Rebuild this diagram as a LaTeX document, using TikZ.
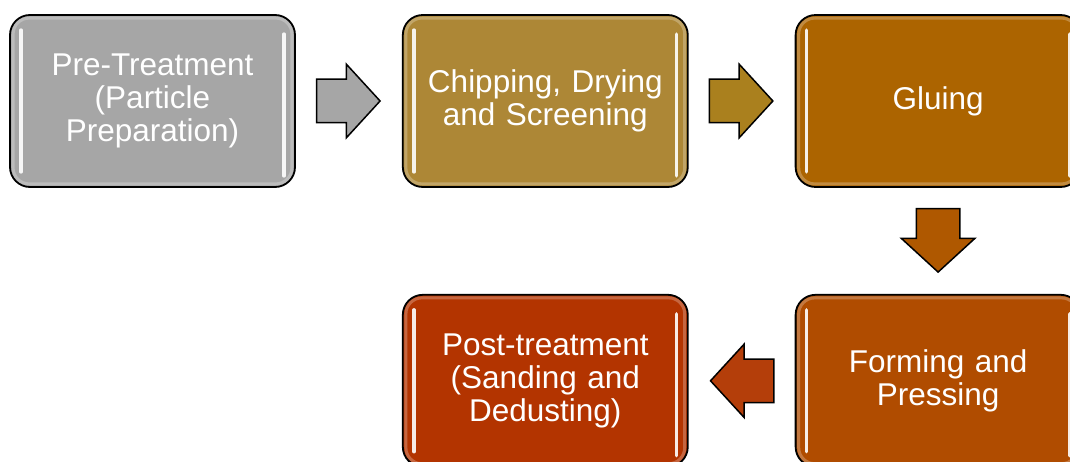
\documentclass[tikz,border=0pt]{standalone}
\usepackage{fontspec}
\setmainfont{Liberation Sans}
\usetikzlibrary{calc,positioning,shapes.arrows}

\definecolor{cpre}{RGB}{166,166,166}
\definecolor{cchip}{RGB}{173,135,54}
\definecolor{cglue}{RGB}{172,100,0}
\definecolor{cform}{RGB}{176,76,0}
\definecolor{cpost}{RGB}{179,52,0}
\definecolor{cflowa}{RGB}{166,166,166}
\definecolor{cflowb}{RGB}{170,128,30}
\definecolor{cflowc}{RGB}{175,88,0}
\definecolor{cflowd}{RGB}{180,62,10}

\tikzset{
  stage/.style={draw=black, line width=1.8pt, rounded corners=20pt,
    minimum width=285pt, minimum height=172pt, text width=270pt,
    align=center, text=white, font=\fontsize{31.5}{33}\selectfont},
  flow/.style={single arrow, draw=black, line width=1.5pt, inner sep=21pt,
    single arrow head extend=15pt, single arrow tip angle=95,
    minimum height=62pt, anchor=tail},
  glint/.style={white, line width=3.5pt, line cap=round, opacity=.9},
  glow/.style={white, line width=3pt, rounded corners=16pt, opacity=.25}
}

\begin{document}
\begin{tikzpicture}[x=1pt,y=-1pt]
        \useasboundingbox (0,0) rectangle (1070,462);
        \node[stage,fill=cpre] (pre) at (152.5,101) {Pre-Treatment\\(Particle\\Preparation)};
        \node[stage,fill=cchip,right=106pt of pre] (chip) {Chipping, Drying\\and Screening};
        \node[stage,fill=cglue,right=106pt of chip] (glue) {Gluing};
        \node[stage,fill=cform,below=106pt of glue] (form) {Forming and\\Pressing};
        \node[stage,fill=cpost,left=106pt of form] (post) {Post-treatment\\(Sanding and\\Dedusting)};
        \foreach \n in {pre,chip,glue,form,post} {
          \draw[glow] ($(\n.north west)+(4,4)$) rectangle ($(\n.south east)+(-4,-4)$);
          \draw[glint] ($(\n.north west)+(12,16)$) -- ($(\n.south west)+(12,-16)$);
          \draw[glint] ($(\n.north east)+(-12,20)$) -- ($(\n.south east)+(-12,-12)$);
        }
        \node[flow,fill=cflowa] (f1) at ($(pre.east)+(20,0)$) {};
        \node[flow,fill=cflowb] (f2) at ($(chip.east)+(20,0)$) {};
        \node[flow,fill=cflowc,shape border rotate=270] (f3) at ($(glue.south)+(0,20)$) {};
        \node[flow,fill=cflowd,shape border rotate=180] (f4) at ($(form.west)+(-20,0)$) {};
      \end{tikzpicture}
\end{document}
